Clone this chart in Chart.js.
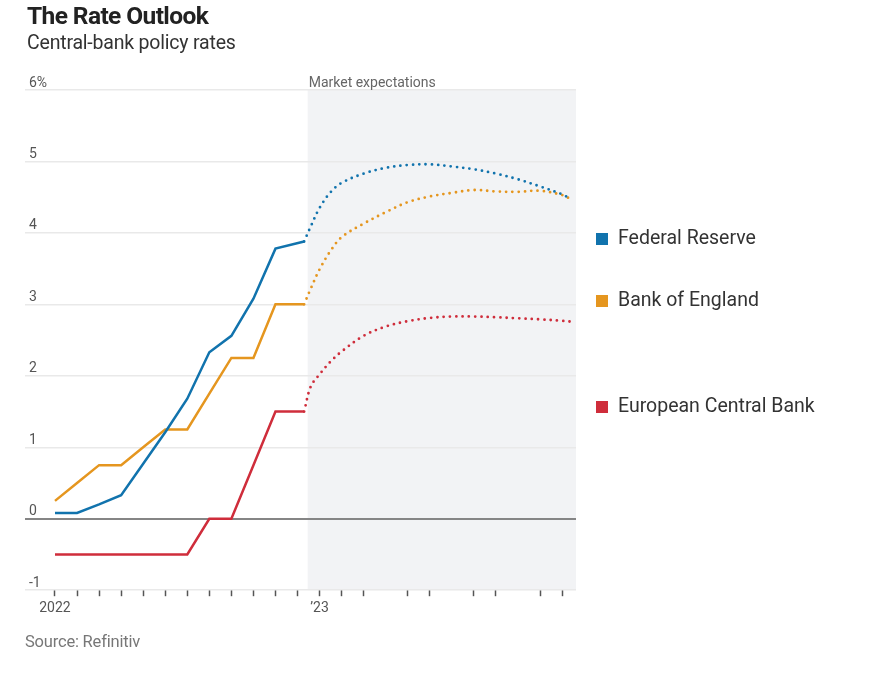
<!DOCTYPE html>
<html>
<head>
<meta charset="utf-8">
<script src="https://cdn.jsdelivr.net/npm/chart.js@4/dist/chart.umd.min.js"></script>
<style>
  body { margin: 0; background: #fff; overflow: hidden; }
  #wrap { position: relative; width: 871px; height: 685px; font-family: Roboto, "Liberation Sans", sans-serif; }
  #chart { position: absolute; left: 0; top: 0; }
  .title { position: absolute; left: 27px; top: 1px; font-size: 24.5px; font-weight: bold; color: #222; letter-spacing: -0.6px; }
  .subtitle { position: absolute; left: 27px; top: 31px; font-size: 19.5px; color: #333; letter-spacing: -0.2px; }
  .source { position: absolute; left: 25px; top: 632px; font-size: 16.5px; color: #777; letter-spacing: -0.2px; }
  .legend { position: absolute; left: 596px; font-size: 19.5px; color: #333; white-space: nowrap; }
  .legend span { display: inline-block; width: 12px; height: 12px; margin-right: 10px; vertical-align: -1px; }
</style>
</head>
<body>
<div id="wrap">
  <canvas id="chart" width="871" height="685"></canvas>
  <div class="title">The Rate Outlook</div>
  <div class="subtitle">Central-bank policy rates</div>
  <div class="legend" style="top:226px"><span style="background:#1173ad"></span>Federal Reserve</div>
  <div class="legend" style="top:288px"><span style="background:#e5961f"></span>Bank of England</div>
  <div class="legend" style="top:394px"><span style="background:#cf2d3b"></span>European Central Bank</div>
  <div class="source">Source: Refinitiv</div>
</div>
<script>
// months counted from Jan 2022 = 0
const actualMonths = [0, 1, 2, 3, 4, 5, 6, 7, 8, 9, 10, 11.3];
const fedActual = [0.08, 0.08, 0.20, 0.33, 0.77, 1.21, 1.68, 2.33, 2.56, 3.08, 3.78, 3.88];
const boeActual = [0.25, 0.5, 0.75, 0.75, 1.0, 1.25, 1.25, 1.75, 2.25, 2.25, 3.0, 3.0];
const ecbActual = [-0.5, -0.5, -0.5, -0.5, -0.5, -0.5, -0.5, 0, 0, 0.75, 1.5, 1.5];

const expMonths = [11.3, 11.6, 12, 12.5, 13, 14, 15, 16, 17, 18, 19, 20, 21, 22, 23, 23.35];
const fedExpected = [3.88, 4.09, 4.35, 4.57, 4.70, 4.83, 4.91, 4.95, 4.96, 4.93, 4.89, 4.83, 4.75, 4.65, 4.54, 4.48];
const boeExpected = [3.0, 3.22, 3.49, 3.75, 3.94, 4.13, 4.29, 4.43, 4.51, 4.56, 4.60, 4.58, 4.575, 4.59, 4.53, 4.48];
const ecbExpected = [1.5, 1.85, 2.02, 2.20, 2.34, 2.56, 2.69, 2.765, 2.81, 2.83, 2.83, 2.82, 2.805, 2.79, 2.77, 2.76];

const xTickMonths = [0, 1, 2, 3, 4, 5, 6, 7, 8, 9, 10, 11, 12, 13, 14, 16, 17, 19, 20, 22, 23];
const xTickLabels = { 0: '2022', 12: '\u201923' };
const expectationsStart = 11.46;

const colors = { fed: '#1173ad', boe: '#e5961f', ecb: '#cf2d3b' };

function pts(months, values) {
  return months.map((m, i) => ({ x: m, y: values[i] }));
}

function solid(data, color) {
  return { data: data, borderColor: color, borderWidth: 2.5, pointRadius: 0, tension: 0, fill: false };
}

function dotted(data, color) {
  return {
    data: data, borderColor: color, borderWidth: 2.8, pointRadius: 0, tension: 0.35, fill: false,
    borderDash: [0, 6.3], borderCapStyle: 'round'
  };
}

const shadePlugin = {
  id: 'shade',
  beforeDraw(chart) {
    const { ctx, chartArea, scales } = chart;
    const x0 = scales.x.getPixelForValue(expectationsStart);
    ctx.save();
    ctx.fillStyle = '#f2f3f5';
    ctx.fillRect(x0, chartArea.top, chartArea.right - x0, chartArea.bottom - chartArea.top);
    ctx.restore();
  },
  afterDraw(chart) {
    const { ctx, chartArea, scales } = chart;
    const x0 = scales.x.getPixelForValue(expectationsStart);
    ctx.save();
    ctx.font = '14px Roboto, sans-serif';
    ctx.fillStyle = '#666';
    ctx.textBaseline = 'middle';
    ctx.fillText('Market expectations', x0 + 1, chartArea.top - 7);
    ctx.restore();
  }
};

new Chart(document.getElementById('chart'), {
  type: 'line',
  data: {
    datasets: [
      solid(pts(actualMonths, fedActual), colors.fed),
      solid(pts(actualMonths, boeActual), colors.boe),
      solid(pts(actualMonths, ecbActual), colors.ecb),
      dotted(pts(expMonths, fedExpected), colors.fed),
      dotted(pts(expMonths, boeExpected), colors.boe),
      dotted(pts(expMonths, ecbExpected), colors.ecb)
    ]
  },
  options: {
    responsive: false,
    animation: false,
    layout: { padding: { top: 90, left: 17, right: 295, bottom: 64 } },
    plugins: { legend: { display: false }, tooltip: { enabled: false } },
    scales: {
      x: {
        type: 'linear',
        min: -1.36,
        max: 23.63,
        afterBuildTicks: scale => { scale.ticks = xTickMonths.map(v => ({ value: v })); },
        grid: { drawOnChartArea: false, drawTicks: true, tickLength: 6, tickColor: '#555', tickWidth: 1.5 },
        border: { display: false },
        ticks: {
          autoSkip: false, maxRotation: 0, padding: 4, color: '#555',
          font: { family: 'Roboto', size: 14 },
          callback: v => xTickLabels[v] || ''
        }
      },
      y: {
        min: -1,
        max: 6,
        grid: {
          drawTicks: false,
          color: c => (c.tick && c.tick.value === 0 ? '#858585' : '#e9e9e9'),
          lineWidth: c => (c.tick && c.tick.value === 0 ? 2 : 1.5)
        },
        border: { display: false },
        ticks: {
          stepSize: 1, mirror: true, padding: 4, labelOffset: -7, color: '#555',
          font: { family: 'Roboto', size: 14 },
          callback: v => (v === 6 ? '6%' : String(v))
        }
      }
    }
  },
  plugins: [shadePlugin]
});
</script>
</body>
</html>
